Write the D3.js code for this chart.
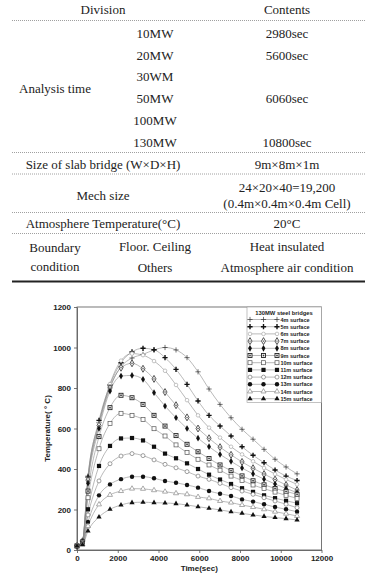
<!DOCTYPE html>
<meta charset="utf-8">
<script src="https://d3js.org/d3.v7.min.js"></script>
<style>
  body { margin: 0; background: #fff; }
  svg { display: block; }
</style>
<body>
<div id="chart"></div>
<script>

// ---- table text ----
var tableHead = ["Division", "Contents"];
var fireSizes = ["10MW", "20MW", "30WM", "50MW", "100MW", "130MW"];
var analysisTimes = ["2980sec", "5600sec", "", "6060sec", "", "10800sec"];
var otherRows = [
  ["Size of slab bridge (W×D×H)", "9m×8m×1m"],
  ["Mech size", "24×20×40=19,200", "(0.4m×0.4m×0.4m Cell)"],
  ["Atmosphere Temperature(°C)", "20°C"]
];
var boundaryRows = [
  ["Floor. Ceiling", "Heat insulated"],
  ["Others", "Atmosphere air condition"]
];

// ---- chart data (time in sec, temperature in °C) ----
var times = [0, 270, 540, 1080, 1620, 2160, 2700, 3240, 3780, 4320, 4860, 5400, 5940, 6480, 7020, 7560, 8100, 8640, 9180, 9720, 10260, 10800];
var seriesNames = ["4m surface", "5m surface", "6m surface", "7m surface", "8m surface", "9m surface",
                   "10m surface", "11m surface", "12m surface", "13m surface", "14m surface", "15m surface"];
var t4m  = [20, 45, 365, 630, 805, 905, 948, 966, 988, 1000, 988, 950, 880, 795, 719, 653, 596, 547, 497, 448, 410, 376];
var t5m  = [20, 45, 360, 640, 815, 925, 978, 996, 989, 950, 892, 818, 736, 665, 612, 563, 510, 468, 431, 395, 365, 343];
var t6m  = [20, 44, 350, 625, 820, 935, 970, 962, 933, 885, 815, 740, 665, 604, 555, 510, 472, 438, 405, 375, 348, 324];
var t7m  = [20, 43, 345, 615, 800, 900, 922, 895, 845, 780, 715, 655, 600, 552, 508, 470, 435, 404, 375, 348, 321, 296];
var t8m  = [20, 42, 330, 600, 785, 859, 862, 843, 777, 711, 653, 600, 552, 510, 472, 438, 405, 376, 350, 326, 304, 283];
var t9m  = [20, 40, 291, 560, 703, 764, 752, 719, 665, 612, 565, 522, 485, 452, 420, 392, 366, 342, 322, 304, 289, 275];
var t10m = [20, 38, 258, 500, 625, 675, 665, 645, 599, 563, 519, 481, 448, 420, 394, 365, 344, 321, 303, 286, 270, 255];
var t11m = [20, 35, 201, 415, 514, 551, 553, 541, 510, 476, 453, 428, 400, 372, 348, 326, 305, 287, 270, 256, 243, 231];
var t12m = [20, 32, 173, 341, 426, 464, 476, 466, 445, 423, 406, 387, 365, 349, 329, 308, 291, 275, 258, 242, 226, 209];
var t13m = [20, 30, 138, 270, 324, 350, 362, 362, 354, 341, 332, 321, 308, 291, 278, 267, 250, 239, 226, 212, 201, 189];
var t14m = [20, 28, 118, 225, 272, 291, 303, 302, 295, 288, 280, 275, 262, 255, 242, 234, 222, 212, 201, 189, 179, 168];
var t15m = [20, 26, 94, 163, 201, 222, 234, 236, 234, 232, 229, 222, 214, 206, 198, 189, 181, 173, 166, 160, 155, 148];
var xTicks = [0, 2000, 4000, 6000, 8000, 10000, 12000];
var yTicks = [0, 200, 400, 600, 800, 1000, 1200];
var legendTitle = "130MW steel bridges";

var allSeries = [t4m, t5m, t6m, t7m, t8m, t9m, t10m, t11m, t12m, t13m, t14m, t15m];
var markerOf = ["plus", "bplus", "lcircle", "ddiamond", "diamond", "dsquare",
                "osquare", "square", "ocircle", "circle", "otriangle", "triangle"];

var W = 371, H = 578;
var svg = d3.select("#chart").append("svg")
    .attr("width", W).attr("height", H)
    .style("background", "#fff");

// ================= table =================
var serif = "'Liberation Serif', 'Times New Roman', serif";
var tbl = svg.append("g")
    .style("font-family", serif)
    .style("font-size", "13px")
    .attr("fill", "#222");

var colX = [55, 155, 287];
function cell(x, y, txt) {
  tbl.append("text").attr("x", x).attr("y", y)
    .attr("text-anchor", "middle").attr("dominant-baseline", "central")
    .text(txt);
}
function dotted(y) {
  tbl.append("line").attr("x1", 12).attr("x2", 365).attr("y1", y).attr("y2", y)
    .attr("stroke", "#888").attr("stroke-width", 0.8).attr("stroke-dasharray", "1,1");
}

cell(103, 9.5, tableHead[0]);
cell(colX[2], 9.5, tableHead[1]);
dotted(20.5);

var rowY = d3.scaleLinear().domain([0, 5]).range([33.5, 142]);
fireSizes.forEach(function(d, i) {
  cell(colX[1], rowY(i), d);
  if (analysisTimes[i]) cell(colX[2], rowY(i), analysisTimes[i]);
});
cell(colX[0], 88, "Analysis time");
dotted(152.5);

cell(103, 164, otherRows[0][0]);
cell(colX[2], 164, otherRows[0][1]);
dotted(174);
cell(103, 195, otherRows[1][0]);
cell(colX[2], 187, otherRows[1][1]);
cell(colX[2], 203, otherRows[1][2]);
dotted(212.5);
cell(103, 223.5, otherRows[2][0]);
cell(colX[2], 223.5, otherRows[2][1]);
dotted(233.5);

cell(colX[0], 247, "Boundary");
cell(colX[0], 266, "condition");
boundaryRows.forEach(function(r, i) {
  var y = i === 0 ? 246.5 : 267;
  cell(colX[1], y, r[0]);
  cell(colX[2], y, r[1]);
});
tbl.append("line").attr("x1", 12).attr("x2", 365).attr("y1", 281.5).attr("y2", 281.5)
  .attr("stroke", "#222").attr("stroke-width", 1.8);

// ================= chart =================
var sans = "'Liberation Sans', Arial, sans-serif";
var x = d3.scaleLinear().domain([0, 12000]).range([77, 321.5]);
var y = d3.scaleLinear().domain([0, 1200]).range([550, 307]);

var chart = svg.append("g").style("font-family", sans);

// frame
chart.append("rect")
  .attr("x", x(0)).attr("y", y(1200))
  .attr("width", x(12000) - x(0)).attr("height", y(0) - y(1200))
  .attr("fill", "none").attr("stroke", "#555").attr("stroke-width", 0.8);

var xAxis = chart.append("g")
  .attr("transform", "translate(0," + y(0) + ")")
  .call(d3.axisBottom(x).tickValues(xTicks).tickFormat(d3.format("d"))
        .tickSize(3).tickSizeOuter(0).tickPadding(2));
var yAxis = chart.append("g")
  .attr("transform", "translate(" + x(0) + ",0)")
  .call(d3.axisLeft(y).tickValues(yTicks).tickFormat(d3.format("d"))
        .tickSize(3).tickSizeOuter(0).tickPadding(3));
[xAxis, yAxis].forEach(function(a) {
  a.select(".domain").attr("stroke", "#555").attr("stroke-width", 0.8);
  a.selectAll(".tick line").attr("stroke", "#555").attr("stroke-width", 0.8);
  a.selectAll(".tick text")
    .style("font-family", sans).style("font-size", "8px").style("font-weight", "bold")
    .attr("fill", "#222");
});

chart.append("text")
  .attr("x", (x(0) + x(12000)) / 2).attr("y", 571)
  .attr("text-anchor", "middle")
  .style("font-size", "8px").style("font-weight", "bold").attr("fill", "#222")
  .text("Time(sec)");
chart.append("text")
  .attr("transform", "translate(50," + ((y(0) + y(1200)) / 2) + ") rotate(-90)")
  .attr("text-anchor", "middle")
  .style("font-size", "8px").style("font-weight", "bold").attr("fill", "#222")
  .text("Temperature( ° C)");

// marker painter
function paintMarker(g, type) {
  var sym = function(s, size) { return d3.symbol().type(s).size(size)(); };
  switch (type) {
    case "plus":
      g.append("path").attr("d", "M-2.6,0H2.6M0,-2.6V2.6")
        .attr("stroke", "#333").attr("stroke-width", 0.7).attr("fill", "none");
      break;
    case "bplus":
      g.append("path").attr("d", "M-2.6,0H2.6M0,-2.6V2.6")
        .attr("stroke", "#111").attr("stroke-width", 1.4).attr("fill", "none");
      break;
    case "lcircle":
      g.append("circle").attr("r", 1.8).attr("fill", "#fff").attr("stroke", "#aaa").attr("stroke-width", 0.7);
      break;
    case "ddiamond":
      g.append("path").attr("d", sym(d3.symbolDiamond, 14)).attr("fill", "#fff").attr("stroke", "#444").attr("stroke-width", 0.9);
      g.append("circle").attr("r", 0.7).attr("fill", "#333");
      break;
    case "diamond":
      g.append("path").attr("d", sym(d3.symbolDiamond, 13)).attr("fill", "#111");
      break;
    case "dsquare":
      g.append("rect").attr("x", -2).attr("y", -2).attr("width", 4).attr("height", 4)
        .attr("fill", "#fff").attr("stroke", "#222").attr("stroke-width", 0.9);
      g.append("rect").attr("x", -0.8).attr("y", -0.8).attr("width", 1.6).attr("height", 1.6).attr("fill", "#333");
      break;
    case "osquare":
      g.append("rect").attr("x", -2).attr("y", -2).attr("width", 4).attr("height", 4)
        .attr("fill", "#fff").attr("stroke", "#555").attr("stroke-width", 0.7);
      break;
    case "square":
      g.append("rect").attr("x", -2.1).attr("y", -2.1).attr("width", 4.2).attr("height", 4.2).attr("fill", "#111");
      break;
    case "ocircle":
      g.append("circle").attr("r", 2).attr("fill", "#fff").attr("stroke", "#777").attr("stroke-width", 0.7);
      break;
    case "circle":
      g.append("circle").attr("r", 2.2).attr("fill", "#111");
      break;
    case "otriangle":
      g.append("path").attr("d", sym(d3.symbolTriangle, 11)).attr("fill", "#fff").attr("stroke", "#888").attr("stroke-width", 0.7);
      break;
    case "triangle":
      g.append("path").attr("d", sym(d3.symbolTriangle, 12)).attr("fill", "#111");
      break;
  }
}

var line = d3.line()
  .x(function(d, i) { return x(times[i]); })
  .y(function(d) { return y(d); })
  .curve(d3.curveMonotoneX);

var lines = chart.append("g");
allSeries.forEach(function(s) {
  lines.append("path").attr("d", line(s))
    .attr("fill", "none").attr("stroke", "#8a8a8a").attr("stroke-width", 0.6);
});
allSeries.forEach(function(s, k) {
  var g = chart.append("g");
  g.selectAll("g").data(s).enter().append("g")
    .attr("transform", function(d, i) { return "translate(" + x(times[i]) + "," + y(d) + ")"; })
    .each(function() { paintMarker(d3.select(this), markerOf[k]); });
});

// legend
var lg = chart.append("g");
lg.append("rect").attr("x", 247).attr("y", y(1200)).attr("width", x(12000) - 247).attr("height", 95.5)
  .attr("fill", "#fff").attr("stroke", "#999").attr("stroke-width", 0.6);
lg.append("text").attr("x", 284).attr("y", 313).attr("text-anchor", "middle")
  .attr("dominant-baseline", "central")
  .style("font-size", "5.8px").style("font-weight", "bold").attr("fill", "#222")
  .text(legendTitle);
seriesNames.forEach(function(name, k) {
  var ly = 319.5 + k * 7.2;
  lg.append("line").attr("x1", 250).attr("x2", 277).attr("y1", ly).attr("y2", ly)
    .attr("stroke", "#8a8a8a").attr("stroke-width", 0.6);
  [250, 263.5, 277].forEach(function(mx) {
    paintMarker(lg.append("g").attr("transform", "translate(" + mx + "," + ly + ")"), markerOf[k]);
  });
  lg.append("text").attr("x", 280.5).attr("y", ly).attr("dominant-baseline", "central")
    .style("font-size", "5.5px").style("font-weight", "bold").attr("fill", "#222")
    .text(name);
});
</script>
</body>
